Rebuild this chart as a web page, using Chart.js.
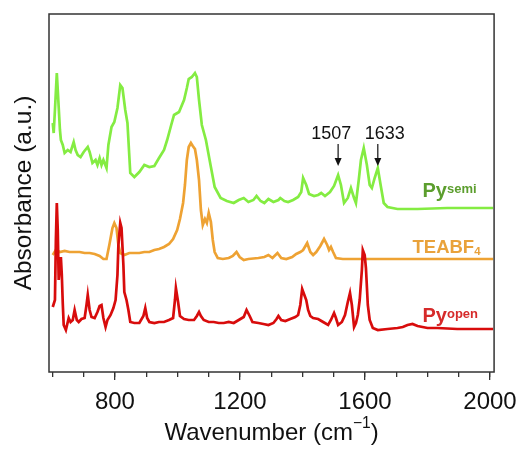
<!DOCTYPE html>
<html lang="en">
<head>
    <meta charset="UTF-8">
    <title>FTIR spectra</title>
    <script src="https://cdn.jsdelivr.net/npm/chart.js"></script>
    <style>
        * {
            margin: 0;
            padding: 0;
            box-sizing: border-box;
        }

        body {
            background: #ffffff;
            width: 525px;
            height: 449px;
            overflow: hidden;
        }

        #wrap {
            position: relative;
            width: 525px;
            height: 449px;
        }
    </style>
</head>
<body>
    <div id="wrap">
        <canvas id="ftir"></canvas>
    </div>

    <script>
        // Spectra: wavenumber (cm-1) and absorbance (a.u., offset traces)
        const wnOpen = [601, 608, 611, 614, 617, 620, 624, 627, 630, 633, 636, 643, 646, 652, 658, 665, 671, 678, 684, 693,
            703, 709, 713, 719, 725, 735, 744, 751, 757, 763, 770, 776, 786, 795, 802, 808, 811, 817, 821, 827,
            830, 837, 843, 849, 862, 878, 891, 897, 903, 910, 926, 941, 957, 973, 986, 992, 995, 1002, 1008, 1021,
            1036, 1053, 1062, 1069, 1075, 1084, 1100, 1116, 1132, 1148, 1164, 1180, 1196, 1212, 1221, 1231, 1240, 1259, 1275, 1291,
            1307, 1317, 1323, 1332, 1345, 1361, 1377, 1386, 1393, 1399, 1406, 1412, 1418, 1425, 1434, 1450, 1466, 1482, 1491, 1501,
            1507, 1514, 1526, 1536, 1545, 1552, 1558, 1565, 1571, 1577, 1583, 1590, 1593, 1599, 1603, 1609, 1615, 1625, 1641, 1672,
            1704, 1721, 1736, 1752, 1768, 1800, 1832, 1895, 1959, 2010];
        const absOpen = [0.65, 0.72, 1.32, 1.69, 1.42, 0.92, 1.07, 1.15, 0.97, 0.69, 0.47, 0.42, 0.46, 0.54, 0.50, 0.52, 0.62, 0.52, 0.50, 0.53,
            0.54, 0.67, 0.77, 0.62, 0.55, 0.54, 0.60, 0.66, 0.67, 0.54, 0.45, 0.52, 0.57, 0.64, 0.72, 0.97, 1.27, 1.49, 1.44, 1.07,
            0.80, 0.72, 0.62, 0.50, 0.49, 0.49, 0.56, 0.64, 0.54, 0.50, 0.49, 0.50, 0.50, 0.52, 0.54, 0.72, 0.84, 0.70, 0.56, 0.53,
            0.52, 0.52, 0.56, 0.60, 0.56, 0.52, 0.50, 0.50, 0.49, 0.49, 0.50, 0.49, 0.52, 0.55, 0.62, 0.56, 0.50, 0.49, 0.48, 0.47,
            0.49, 0.53, 0.56, 0.52, 0.51, 0.53, 0.55, 0.57, 0.67, 0.83, 0.77, 0.72, 0.62, 0.56, 0.54, 0.53, 0.50, 0.47, 0.52, 0.59,
            0.54, 0.47, 0.50, 0.57, 0.70, 0.79, 0.67, 0.45, 0.49, 0.57, 0.72, 1.02, 1.22, 1.17, 1.04, 0.67, 0.52, 0.44, 0.42, 0.43,
            0.44, 0.45, 0.47, 0.48, 0.46, 0.44, 0.44, 0.43, 0.43, 0.43];

        const wnTea = [601, 611, 624, 639, 655, 671, 687, 703, 719, 735, 751, 763, 773, 782, 792, 798, 805, 811, 817, 830,
            846, 862, 878, 894, 910, 926, 941, 957, 973, 986, 999, 1008, 1018, 1024, 1030, 1036, 1043, 1049, 1056, 1062,
            1069, 1075, 1081, 1088, 1094, 1100, 1107, 1113, 1119, 1129, 1145, 1164, 1177, 1189, 1199, 1212, 1227, 1259, 1278, 1291,
            1304, 1320, 1332, 1348, 1367, 1380, 1393, 1402, 1415, 1425, 1434, 1444, 1457, 1469, 1479, 1485, 1491, 1498, 1507, 1529,
            1577, 1704, 1863, 2010];
        const absTea = [1.17, 1.22, 1.20, 1.21, 1.20, 1.20, 1.20, 1.19, 1.19, 1.18, 1.16, 1.13, 1.13, 1.27, 1.44, 1.49, 1.44, 1.27, 1.19, 1.17,
            1.19, 1.19, 1.19, 1.20, 1.20, 1.22, 1.23, 1.25, 1.28, 1.33, 1.42, 1.53, 1.69, 1.87, 2.12, 2.25, 2.29, 2.26, 2.23, 2.12,
            1.92, 1.62, 1.47, 1.53, 1.49, 1.59, 1.50, 1.32, 1.20, 1.14, 1.13, 1.14, 1.16, 1.20, 1.15, 1.12, 1.13, 1.14, 1.15, 1.17,
            1.14, 1.19, 1.14, 1.13, 1.15, 1.18, 1.20, 1.22, 1.29, 1.20, 1.17, 1.20, 1.26, 1.33, 1.27, 1.22, 1.25, 1.20, 1.14, 1.13,
            1.13, 1.13, 1.13, 1.13];

        const wnSemi = [601, 604, 608, 614, 617, 624, 627, 633, 639, 649, 658, 668, 674, 681, 690, 700, 713, 719, 728, 738,
            744, 751, 757, 763, 773, 779, 789, 798, 808, 817, 824, 833, 840, 849, 862, 878, 894, 910, 926, 941,
            957, 967, 980, 989, 1005, 1021, 1030, 1036, 1046, 1056, 1062, 1069, 1078, 1091, 1107, 1119, 1138, 1158, 1180, 1196,
            1212, 1227, 1243, 1253, 1266, 1278, 1291, 1307, 1323, 1329, 1342, 1354, 1370, 1386, 1396, 1402, 1412, 1421, 1437, 1450,
            1460, 1472, 1488, 1501, 1514, 1523, 1533, 1545, 1555, 1565, 1571, 1580, 1587, 1596, 1606, 1615, 1622, 1631, 1641, 1650,
            1660, 1672, 1704, 1768, 1863, 1959, 2010];
        const absSemi = [2.49, 2.39, 2.62, 2.99, 2.82, 2.42, 2.32, 2.27, 2.19, 2.22, 2.20, 2.30, 2.22, 2.17, 2.15, 2.20, 2.25, 2.20, 2.09, 2.12,
            2.07, 2.14, 2.07, 2.12, 2.04, 2.27, 2.45, 2.50, 2.64, 2.87, 2.84, 2.62, 2.49, 1.99, 1.95, 2.00, 2.07, 2.05, 2.06, 2.14,
            2.22, 2.32, 2.47, 2.57, 2.60, 2.72, 2.84, 2.93, 2.95, 2.99, 2.95, 2.72, 2.47, 2.32, 2.05, 1.85, 1.74, 1.71, 1.69, 1.72,
            1.74, 1.70, 1.72, 1.76, 1.71, 1.69, 1.73, 1.70, 1.72, 1.74, 1.71, 1.70, 1.72, 1.75, 1.80, 1.94, 1.87, 1.78, 1.76, 1.77,
            1.79, 1.76, 1.80, 1.86, 1.97, 1.87, 1.69, 1.74, 1.84, 1.74, 1.69, 1.92, 2.12, 2.24, 2.07, 1.87, 1.84, 1.94, 2.04, 1.87,
            1.69, 1.65, 1.63, 1.63, 1.64, 1.64, 1.64];

        // x axis ticks
        const minorTicks = [600, 700, 800, 900, 1000, 1100, 1200, 1300, 1400, 1500, 1600, 1700, 1800, 1900, 2000];
        const majorTicks = [800, 1200, 1600, 2000];

        // peak markers over the Py semi trace
        const markLabels = ['1507', '1633'];
        const markArrowAt = [1514, 1641];
        const markTextAt = [1492, 1663];

        // trace names, placed at the right end of each trace
        const traceNames = [
            { parts: [['Py', 'n'], ['semi', 'sup']], color: '#5c9e2e', wn: 1784, a: 1.75, size: 20 },
            { parts: [['TEABF', 'n'], ['4', 'sub']], color: '#e9a23b', wn: 1752, a: 1.19, size: 18.5 },
            { parts: [['Py', 'n'], ['open', 'sup']], color: '#d62a2a', wn: 1784, a: 0.50, size: 20 }
        ];

        const FONT = "'Liberation Sans', Arial, Helvetica, sans-serif";
        Chart.defaults.font.family = FONT;
        Chart.defaults.color = '#111111';

        function toPoints(xs, ys) {
            return xs.map((x, i) => ({ x: x, y: ys[i] }));
        }

        // draws text made of normal / superscript / subscript runs, starting at x
        function drawRich(ctx, parts, x, y, bold, size, supRaise) {
            let cx = x;
            for (const [txt, kind] of parts) {
                let fs = size, dy = 0;
                if (kind === 'sup') { fs = size * 0.65; dy = -size * (supRaise || 0.22); }
                if (kind === 'sub') { fs = size * 0.62; dy = size * 0.1; }
                ctx.font = (bold ? 'bold ' : '') + fs + 'px ' + FONT;
                ctx.fillText(txt, cx, y + dy);
                cx += ctx.measureText(txt).width;
            }
            return cx - x;
        }

        function richWidth(ctx, parts, bold, size) {
            let w = 0;
            for (const [txt, kind] of parts) {
                const fs = kind === 'n' ? size : size * (kind === 'sup' ? 0.65 : 0.62);
                ctx.font = (bold ? 'bold ' : '') + fs + 'px ' + FONT;
                w += ctx.measureText(txt).width;
            }
            return w;
        }

        const decorPlugin = {
            id: 'decor',
            afterDatasetsDraw(chart) {
                const { ctx, chartArea, scales } = chart;
                const sx = scales.x, sy = scales.y;
                ctx.save();

                // frame
                ctx.strokeStyle = '#333333';
                ctx.lineWidth = 1.5;
                ctx.strokeRect(chartArea.left, chartArea.top, chartArea.right - chartArea.left, chartArea.bottom - chartArea.top);

                // peak arrows
                ctx.fillStyle = '#111111';
                ctx.strokeStyle = '#111111';
                ctx.lineWidth = 1.2;
                ctx.textAlign = 'center';
                ctx.textBaseline = 'alphabetic';
                ctx.font = '18px ' + FONT;
                markLabels.forEach((lab, i) => {
                    const ax = sx.getPixelForValue(markArrowAt[i]);
                    const y0 = sy.getPixelForValue(2.28);
                    const y1 = sy.getPixelForValue(2.06);
                    ctx.beginPath();
                    ctx.moveTo(ax, y0);
                    ctx.lineTo(ax, y1 - 5);
                    ctx.stroke();
                    ctx.beginPath();
                    ctx.moveTo(ax, y1);
                    ctx.lineTo(ax - 3.5, y1 - 8);
                    ctx.lineTo(ax + 3.5, y1 - 8);
                    ctx.closePath();
                    ctx.fill();
                    ctx.fillText(lab, sx.getPixelForValue(markTextAt[i]), sy.getPixelForValue(2.33));
                });

                // trace names
                ctx.textAlign = 'left';
                for (const n of traceNames) {
                    ctx.fillStyle = n.color;
                    drawRich(ctx, n.parts, sx.getPixelForValue(n.wn), sy.getPixelForValue(n.a), true, n.size);
                }

                // x axis title with superscript
                ctx.fillStyle = '#111111';
                const title = [['Wavenumber (cm', 'n'], ['\u22121', 'sup'], [')', 'n']];
                const w = richWidth(ctx, title, false, 24);
                const cx = (chartArea.left + chartArea.right) / 2;
                drawRich(ctx, title, cx - w / 2, 440, false, 24, 0.5);

                ctx.restore();
            }
        };

        const ctx = document.getElementById('ftir').getContext('2d');
        const ftirChart = new Chart(ctx, {
            type: 'line',
            data: {
                datasets: [
                    {
                        label: 'Py open',
                        data: toPoints(wnOpen, absOpen),
                        borderColor: '#d80c0c',
                        borderWidth: 2.7,
                        pointRadius: 0,
                        tension: 0,
                        fill: false
                    },
                    {
                        label: 'TEABF4',
                        data: toPoints(wnTea, absTea),
                        borderColor: '#eea233',
                        borderWidth: 2.7,
                        pointRadius: 0,
                        tension: 0,
                        fill: false
                    },
                    {
                        label: 'Py semi',
                        data: toPoints(wnSemi, absSemi),
                        borderColor: '#84ec42',
                        borderWidth: 2.7,
                        pointRadius: 0,
                        tension: 0,
                        fill: false
                    }
                ]
            },
            options: {
                responsive: true,
                maintainAspectRatio: false,
                animation: false,
                devicePixelRatio: 1,
                layout: {
                    padding: { top: 14, right: 28, left: 0, bottom: 0 }
                },
                plugins: {
                    legend: { display: false },
                    tooltip: { enabled: false }
                },
                scales: {
                    xMinor: {
                        type: 'linear',
                        position: 'bottom',
                        weight: 0,
                        min: 589,
                        max: 2013,
                        afterBuildTicks: (s) => { s.ticks = minorTicks.map(v => ({ value: v })); },
                        afterFit: (s) => { s.height = 0; },
                        grid: { drawOnChartArea: false, tickLength: 5, color: '#333333', lineWidth: 1.3 },
                        border: { display: false },
                        ticks: { display: false }
                    },
                    x: {
                        type: 'linear',
                        position: 'bottom',
                        weight: 1,
                        min: 589,
                        max: 2013,
                        afterBuildTicks: (s) => { s.ticks = majorTicks.map(v => ({ value: v })); },
                        afterFit: (s) => { s.height = 77; },
                        grid: { drawOnChartArea: false, tickLength: 8, color: '#333333', lineWidth: 1.3 },
                        border: { display: false },
                        ticks: {
                            font: { size: 24 },
                            color: '#111111',
                            padding: 8,
                            maxRotation: 0,
                            autoSkip: false,
                            callback: (v) => String(v)
                        }
                    },
                    y: {
                        type: 'linear',
                        min: 0,
                        max: 3.58,
                        afterFit: (s) => { s.width = 49; },
                        grid: { display: false },
                        border: { display: false },
                        ticks: { display: false },
                        title: {
                            display: true,
                            text: 'Absorbance (a.u.)',
                            font: { size: 24.5 },
                            color: '#111111',
                            padding: { top: 10, bottom: 0 }
                        }
                    }
                }
            },
            plugins: [decorPlugin]
        });
    </script>
</body>
</html>
